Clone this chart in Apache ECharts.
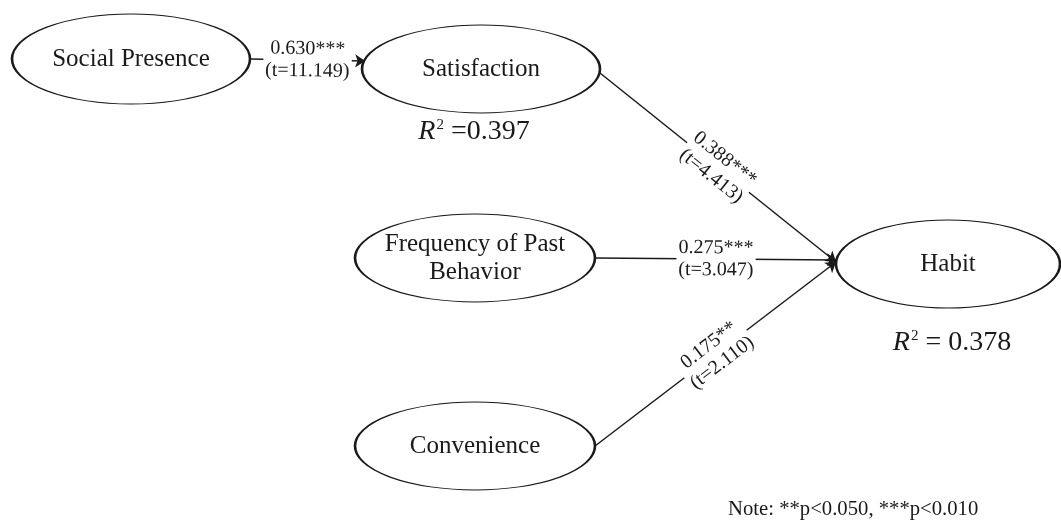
<!DOCTYPE html>
<html>
<head>
<meta charset="utf-8">
<script src="https://cdn.jsdelivr.net/npm/echarts@6/dist/echarts.min.js"></script>
<style>
  html, body { margin: 0; padding: 0; background: #fff; }
  #chart { width: 1061px; height: 521px; }
</style>
</head>
<body>
<div id="chart"></div>
<script>
// constructs of the path model
var nodeNames = ['Social Presence', 'Satisfaction', 'Frequency of Past\nBehavior', 'Convenience', 'Habit'];

// paths: source index -> target index, coefficient and t value
var pathFrom = [0, 1, 2, 3];
var pathTo = [1, 4, 4, 4];
var coefficients = ['0.630***', '0.388***', '0.275***', '0.175**'];
var tValues = ['11.149', '4.413', '3.047', '2.110'];

// explained variance
var r2Nodes = [1, 4];
var r2Values = ['0.397', '0.378'];

var noteText = 'Note: **p<0.050, ***p<0.010';

// layout of the diagram (pixel-like units on hidden axes)
var layoutX = [131, 481, 475, 475, 948];
var layoutY = [59, 69, 258, 446, 264];
var layoutW = [238, 238, 240, 240, 224];
var layoutH = [90, 88, 88, 88, 88];
var r2Offset = [[-7, 63], [4, 79]];
var r2Gap = [' =', ' = '];

var FONT = '"Liberation Serif", "Times New Roman", serif';
var INK = '#1a1a1a';

var chart = echarts.init(document.getElementById('chart'));

var nodeData = nodeNames.map(function (name, i) {
  return {
    name: name,
    value: [layoutX[i], layoutY[i]],
    symbolSize: [layoutW[i], layoutH[i]]
  };
});

// arrow runs from the right edge of the source to the left side of the target;
// nearly level paths meet the target ellipse at the source's height
function endPoint(f, t) {
  var dy = layoutY[f] - layoutY[t];
  var ry = layoutH[t] / 2, rx = layoutW[t] / 2;
  if (Math.abs(dy) < ry / 2) {
    var k = dy / ry;
    return [layoutX[t] - rx * Math.sqrt(1 - k * k), layoutY[f] + (dy > 0 ? -2 : 2)];
  }
  return [layoutX[t] - rx, layoutY[t] - 2];
}

var pathData = pathFrom.map(function (f, i) {
  var t = pathTo[i];
  return {
    coords: [[layoutX[f] + layoutW[f] / 2, layoutY[f] + (i === 1 ? 4 : 0)], endPoint(f, t)]
  };
});

var labelData = pathData.map(function (d, i) {
  return {
    value: [d.coords[0][0], d.coords[0][1], d.coords[1][0], d.coords[1][1]],
    text: coefficients[i] + '\n(t=' + tValues[i] + ')'
  };
});

var r2Data = r2Nodes.map(function (n, i) {
  return {
    value: [layoutX[n] + r2Offset[i][0], layoutY[n] + r2Offset[i][1]],
    r2: r2Values[i],
    gap: r2Gap[i]
  };
});

chart.setOption({
  backgroundColor: '#fff',
  animation: false,
  title: {
    text: noteText,
    left: 728,
    top: 499,
    padding: 0,
    textStyle: { fontFamily: FONT, fontSize: 20.7, fontWeight: 'normal', color: INK }
  },
  grid: { left: 0, right: 0, top: 0, bottom: 0 },
  xAxis: { type: 'value', min: 0, max: 1061, show: false },
  yAxis: { type: 'value', min: 0, max: 521, inverse: true, show: false },
  series: [{
    type: 'scatter',
    symbol: 'circle',
    data: nodeData,
    z: 2,
    itemStyle: { color: '#fff', borderColor: INK, borderWidth: 1.6, opacity: 1 },
    label: {
      show: true,
      position: 'inside',
      formatter: function (p) { return p.name; },
      fontFamily: FONT,
      fontSize: 25,
      lineHeight: 28,
      color: INK
    },
    emphasis: { disabled: true }
  }, {
    type: 'lines',
    coordinateSystem: 'cartesian2d',
    data: pathData,
    z: 3,
    symbol: ['none', 'arrow'],
    symbolSize: [7, 10],
    lineStyle: { color: INK, width: 1.5, opacity: 1 },
    emphasis: { disabled: true }
  }, {
    type: 'custom',
    coordinateSystem: 'cartesian2d',
    data: labelData,
    z: 4,
    renderItem: function (params, api) {
      var a = api.coord([api.value(0), api.value(1)]);
      var b = api.coord([api.value(2), api.value(3)]);
      var dx = b[0] - a[0], dy = b[1] - a[1];
      var item = labelData[params.dataIndex];
      return {
        type: 'text',
        x: (a[0] + b[0]) / 2,
        y: (a[1] + b[1]) / 2,
        rotation: -Math.atan2(dy, dx),
        style: {
          text: item.text,
          fontFamily: FONT,
          fontSize: 20,
          lineHeight: 22,
          fill: INK,
          align: 'center',
          verticalAlign: 'middle',
          backgroundColor: '#fff',
          padding: [0, 2]
        }
      };
    }
  }, {
    type: 'scatter',
    data: r2Data,
    symbolSize: 0,
    z: 4,
    itemStyle: { opacity: 1 },
    label: {
      show: true,
      position: 'inside',
      formatter: function (p) { return '{r|R}{s|2}{e|' + p.data.gap + p.data.r2 + '}'; },
      rich: {
        r: { fontFamily: FONT, fontSize: 28, fontStyle: 'italic', color: INK },
        s: { fontFamily: FONT, fontSize: 15, color: INK, verticalAlign: 'top', padding: [0, 0, 14, 1] },
        e: { fontFamily: FONT, fontSize: 28, color: INK }
      }
    },
    emphasis: { disabled: true }
  }]
});
</script>
</body>
</html>
